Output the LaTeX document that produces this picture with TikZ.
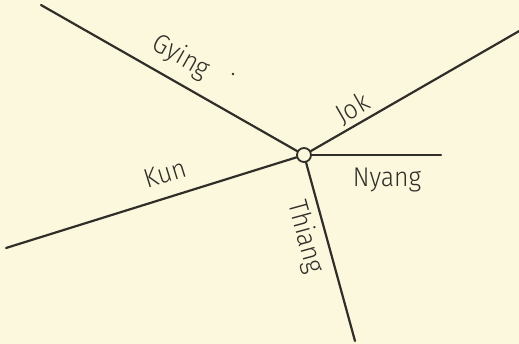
\documentclass[tikz,border=0pt]{standalone}
\usepackage{fontspec}
\setmainfont{Fira Sans Light}
\definecolor{paper}{RGB}{252,248,222}
\definecolor{ink}{RGB}{48,46,40}
\begin{document}
\begin{tikzpicture}[x=1pt,y=-1pt,line cap=round,line join=round]
  \tikzset{road/.style={line width=2.2pt,draw=ink},
           place/.style={inner sep=0pt,text=ink,font=\fontsize{27}{30}\selectfont}}
  \fill[paper] (0,0) rectangle (519,344);
  \useasboundingbox (0,0) rectangle (519,344);
  \node[circle,draw=ink,line width=1.8pt,fill=paper,minimum size=14pt,inner sep=0pt] (hub) at (304,155) {};
  \coordinate (gying) at (41,5);
  \coordinate (jok) at (521,30);
  \coordinate (nyang) at (441,155);
  \coordinate (thiang) at (355,341);
  \coordinate (kun) at (6,248);
  \draw[road] (gying) -- (hub);
  \draw[road] (hub) -- (jok);
  \draw[road] (hub) -- (nyang);
  \draw[road] (hub) -- (thiang);
  \draw[road] (kun) -- (hub);
  \node[place,rotate=-29.7,xscale=0.92] (lgying) at (181,57) {Gying};
  \fill[ink] (233,74) circle (1.4pt);
  \node[place,rotate=29.9,xscale=0.92] (ljok) at (353,109) {Jok};
  \node[place,xscale=0.92] (lnyang) at (387,180) {Nyang};
  \node[place,rotate=-74.7,xscale=0.92] (lthiang) at (305,237) {Thiang};
  \node[place,rotate=17.3,xscale=0.92] (lkun) at (165,174) {Kun};
\end{tikzpicture}
\end{document}
